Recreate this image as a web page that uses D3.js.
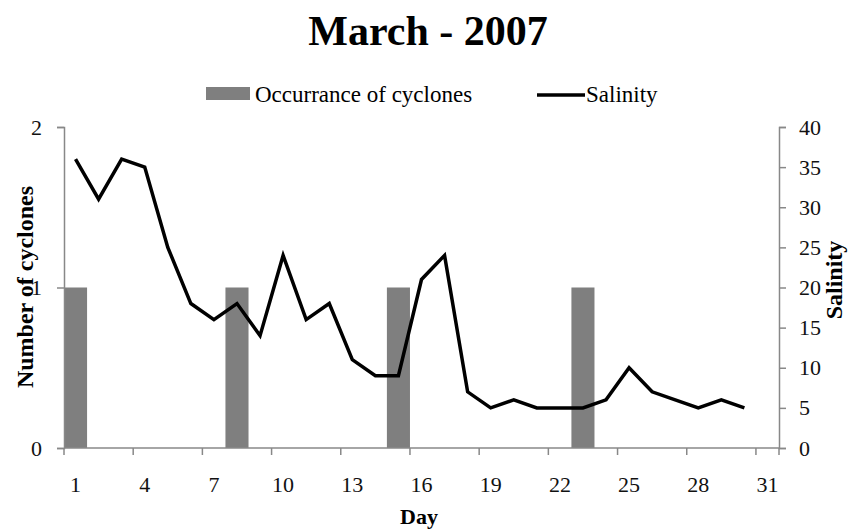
<!DOCTYPE html>
<html>
<head>
<meta charset="utf-8">
<script src="https://cdn.jsdelivr.net/npm/d3@7"></script>
<style>
  body { margin: 0; background: #fff; }
  svg text { font-family: "Liberation Serif", "Times New Roman", serif; }
</style>
</head>
<body>
<svg id="chart" width="849" height="529" font-family="Liberation Serif, serif"></svg>
<script>
"use strict";

// day categories 1..31
const days = d3.range(1, 32);
// cyclone occurrences (only days with a cyclone)
const cycloneDays = [1, 8, 15, 23];
const cycloneCounts = [1, 1, 1, 1];
// salinity, days 1..30
const salinityDays = d3.range(1, 31);
const salinity = [36, 31, 36, 35, 25, 18, 16, 18, 14, 24,
                  16, 18, 11, 9, 9, 21, 24, 7, 5, 6,
                  5, 5, 5, 6, 10, 7, 6, 5, 6, 5];
const dayTicks = [1, 4, 7, 10, 13, 16, 19, 22, 25, 28, 31];
const leftTicks = [0, 1, 2];
const rightTicks = [0, 5, 10, 15, 20, 25, 30, 35, 40];

const svg = d3.select("#chart");
const plotL = 64, plotR = 779, plotT = 127, plotB = 448;
const axisColor = "#888";
const serif = "Liberation Serif, serif";

const x = d3.scaleBand().domain(days).range([plotL, plotR]).padding(0);
const yL = d3.scaleLinear().domain([0, 2]).range([plotB, plotT]);
const yR = d3.scaleLinear().domain([0, 40]).range([plotB, plotT]);

// title
svg.append("text")
    .attr("x", 428).attr("y", 45)
    .attr("text-anchor", "middle")
    .style("font-size", "42px").style("font-weight", "bold")
    .text("March - 2007");

// bars
svg.append("g").selectAll("rect")
    .data(cycloneDays.map((d, i) => ({day: d, v: cycloneCounts[i]})))
    .join("rect")
    .attr("x", d => x(d.day))
    .attr("y", d => yL(d.v))
    .attr("width", x.bandwidth())
    .attr("height", d => yL(0) - yL(d.v))
    .attr("fill", "#7f7f7f");

// salinity line
const line = d3.line()
    .x((d, i) => x(salinityDays[i]) + x.bandwidth() / 2)
    .y(d => yR(d));
svg.append("path")
    .datum(salinity)
    .attr("d", line)
    .attr("fill", "none")
    .attr("stroke", "#000")
    .attr("stroke-width", 3.5)
    .attr("stroke-linejoin", "miter");

function styleAxis(g) {
    g.attr("font-family", serif).attr("font-size", 22);
    g.select(".domain").attr("stroke", axisColor).attr("stroke-width", 1.5);
    g.selectAll(".tick line").attr("stroke", axisColor).attr("stroke-width", 1.5);
    g.selectAll(".tick text").attr("fill", "#111");
}

// left axis
svg.append("g")
    .attr("transform", `translate(${plotL},0)`)
    .call(d3.axisLeft(yL).tickValues(leftTicks).tickFormat(d3.format("d"))
        .tickSizeInner(7).tickSizeOuter(7).tickPadding(15))
    .call(styleAxis);

// right axis
svg.append("g")
    .attr("transform", `translate(${plotR},0)`)
    .call(d3.axisRight(yR).tickValues(rightTicks)
        .tickSizeInner(7).tickSizeOuter(7).tickPadding(13))
    .call(styleAxis);

// bottom axis: ticks at category boundaries every 3 days, labels centred
const gx = svg.append("g").attr("transform", `translate(0,${plotB})`);
gx.append("line")
    .attr("x1", plotL).attr("x2", plotR)
    .attr("stroke", axisColor).attr("stroke-width", 1.5);
gx.selectAll(".tk")
    .data(dayTicks.concat([32]))
    .join("line")
    .attr("x1", d => d > 31 ? plotR : x(d))
    .attr("x2", d => d > 31 ? plotR : x(d))
    .attr("y1", 0).attr("y2", 7)
    .attr("stroke", axisColor).attr("stroke-width", 1.5);
gx.selectAll("text")
    .data(dayTicks)
    .join("text")
    .attr("x", d => x(d) + x.bandwidth() / 2)
    .attr("y", 44)
    .attr("text-anchor", "middle")
    .attr("fill", "#111")
    .style("font-size", "22px")
    .text(d => d);

// axis titles
svg.append("text")
    .attr("transform", "translate(33,287) rotate(-90)")
    .attr("text-anchor", "middle")
    .style("font-size", "24px").style("font-weight", "bold")
    .text("Number of cyclones");
svg.append("text")
    .attr("transform", "translate(842,280) rotate(-90)")
    .attr("text-anchor", "middle")
    .style("font-size", "24px").style("font-weight", "bold")
    .text("Salinity");
svg.append("text")
    .attr("x", 419).attr("y", 524)
    .attr("text-anchor", "middle")
    .style("font-size", "22px").style("font-weight", "bold")
    .text("Day");

// legend
const lg = svg.append("g");
lg.append("rect")
    .attr("x", 206).attr("y", 87).attr("width", 44).attr("height", 13)
    .attr("fill", "#7f7f7f");
lg.append("text")
    .attr("x", 255).attr("y", 102)
    .style("font-size", "23px")
    .text("Occurrance of cyclones");
lg.append("line")
    .attr("x1", 537).attr("x2", 585).attr("y1", 95).attr("y2", 95)
    .attr("stroke", "#000").attr("stroke-width", 3.5);
lg.append("text")
    .attr("x", 586).attr("y", 102)
    .style("font-size", "23px")
    .text("Salinity");
</script>
</body>
</html>
